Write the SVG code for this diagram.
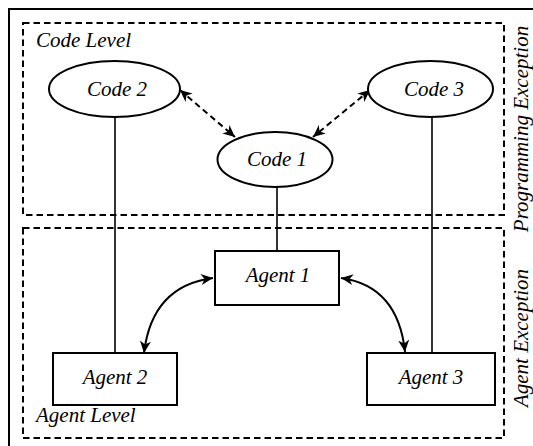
<svg xmlns="http://www.w3.org/2000/svg" width="533" height="446" viewBox="0 0 533 446">
  <style>
    text { font-family: "Liberation Serif", "DejaVu Serif", "Noto Serif", serif; font-style: italic; font-size: 21px; fill: #000; }
    .mid { text-anchor: middle; }
    .node { fill: #fff; stroke: #000; stroke-width: 2; }
    .region { fill: none; stroke: #000; stroke-width: 2; stroke-dasharray: 6.5 4; }
    .link { fill: none; stroke: #000; stroke-width: 1.6; }
    .dep { fill: none; stroke: #000; stroke-width: 2; stroke-dasharray: 6 4; }
    .talk { fill: none; stroke: #000; stroke-width: 2; }
  </style>
  <defs>
    <marker id="stealth" viewBox="-13 -6 14 12" markerWidth="14" markerHeight="12" refX="0" refY="0" orient="auto-start-reverse" markerUnits="userSpaceOnUse">
      <path d="M0,0 L-12,-5.5 L-8.5,0 L-12,5.5 Z" fill="#000"/>
    </marker>
  </defs>

  <!-- outer frame -->
  <rect x="9" y="9" width="600" height="500" fill="none" stroke="#000" stroke-width="2"/>

  <!-- regions -->
  <g id="code-level">
    <rect class="region" x="23" y="23" width="481" height="192"/>
    <text x="36" y="47">Code Level</text>
    <text class="mid" transform="translate(528,129) rotate(-90)">Programming Exception</text>
  </g>
  <g id="agent-level">
    <rect class="region" x="23" y="228" width="481" height="210"/>
    <text x="36" y="422">Agent Level</text>
    <text class="mid" transform="translate(528,338) rotate(-90)">Agent Exception</text>
  </g>

  <!-- connectors -->
  <g id="connectors">
    <line class="link" x1="115" y1="117" x2="115" y2="353"/>
    <line class="link" x1="432" y1="117" x2="432" y2="353"/>
    <line class="link" x1="277" y1="187" x2="277" y2="251"/>
    <path class="dep" d="M180,90 L235,137" marker-start="url(#stealth)" marker-end="url(#stealth)"/>
    <path class="dep" d="M370,90 L313,137" marker-start="url(#stealth)" marker-end="url(#stealth)"/>
    <path class="talk" d="M213,278 Q152,286 144,353" marker-start="url(#stealth)" marker-end="url(#stealth)"/>
    <path class="talk" d="M341,278 Q398,286 405,352" marker-start="url(#stealth)" marker-end="url(#stealth)"/>
  </g>

  <!-- code nodes -->
  <g id="code2">
    <ellipse class="node" cx="114.5" cy="89" rx="65.5" ry="28"/>
    <text class="mid" x="117" y="96">Code 2</text>
  </g>
  <g id="code3">
    <ellipse class="node" cx="430.5" cy="89" rx="62.5" ry="28"/>
    <text class="mid" x="434" y="96">Code 3</text>
  </g>
  <g id="code1">
    <ellipse class="node" cx="275" cy="159.5" rx="57.5" ry="27.5"/>
    <text class="mid" x="277" y="166">Code 1</text>
  </g>

  <!-- agent nodes -->
  <g id="agent1">
    <rect class="node" x="215" y="251" width="124" height="54"/>
    <text class="mid" x="278" y="282">Agent 1</text>
  </g>
  <g id="agent2">
    <rect class="node" x="53" y="353" width="124" height="52"/>
    <text class="mid" x="115" y="384">Agent 2</text>
  </g>
  <g id="agent3">
    <rect class="node" x="367" y="353" width="128" height="52"/>
    <text class="mid" x="431" y="384">Agent 3</text>
  </g>
</svg>
